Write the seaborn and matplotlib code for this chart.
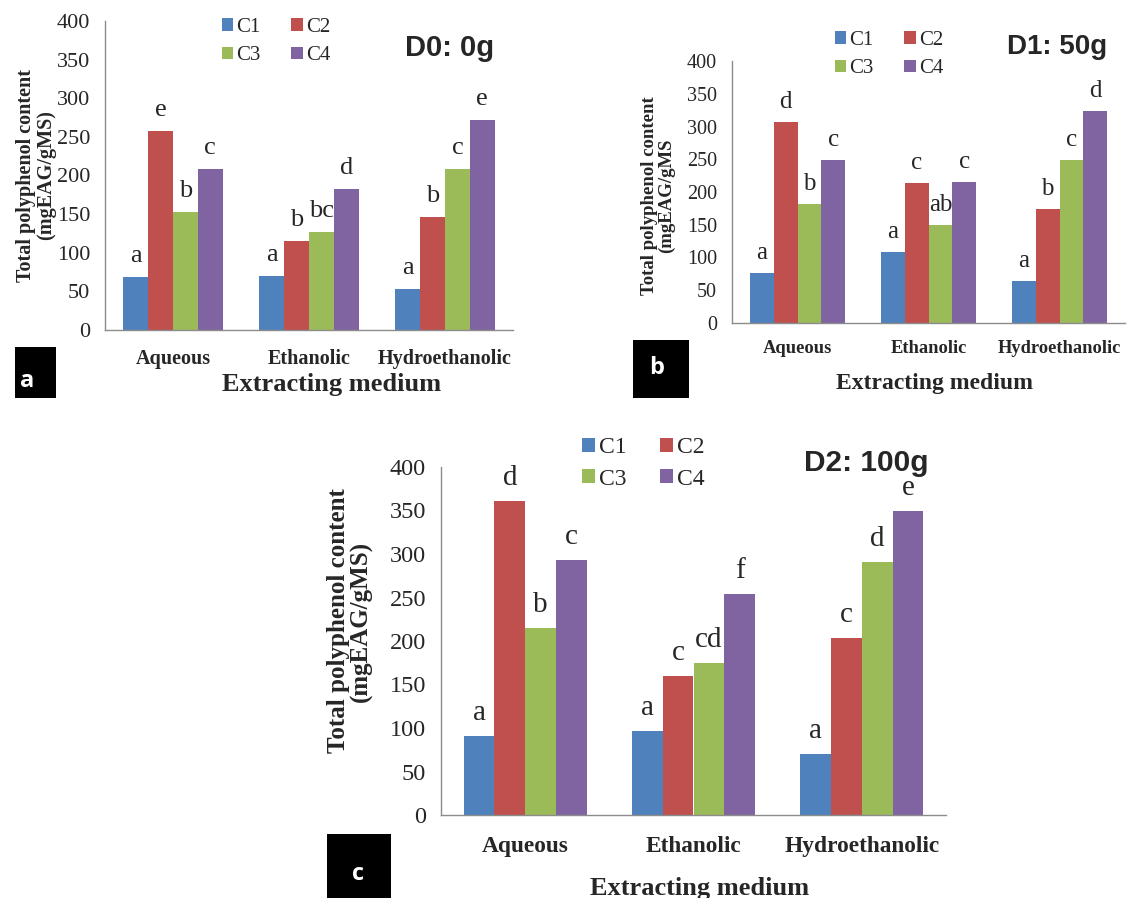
import numpy as np
import pandas as pd
import matplotlib
matplotlib.use("Agg")
import matplotlib.pyplot as plt
import seaborn as sns
from matplotlib.patches import Rectangle

# ---------------- data ----------------
media = ["Aqueous", "Ethanolic", "Hydroethanolic"]
conditions = ["C1", "C2", "C3", "C4"]

# D0: 0g
d0_c1 = [68, 70, 53]
d0_c2 = [257, 115, 146]
d0_c3 = [153, 127, 208]
d0_c4 = [208, 182, 272]
d0_letters_c1 = ["a", "a", "a"]
d0_letters_c2 = ["e", "b", "b"]
d0_letters_c3 = ["b", "bc", "c"]
d0_letters_c4 = ["c", "d", "e"]

# D1: 50g
d1_c1 = [77, 109, 64]
d1_c2 = [307, 213, 174]
d1_c3 = [181, 149, 249]
d1_c4 = [249, 216, 324]
d1_letters_c1 = ["a", "a", "a"]
d1_letters_c2 = ["d", "c", "b"]
d1_letters_c3 = ["b", "ab", "c"]
d1_letters_c4 = ["c", "c", "d"]

# D2: 100g
d2_c1 = [91, 96, 70]
d2_c2 = [361, 160, 204]
d2_c3 = [215, 175, 291]
d2_c4 = [293, 254, 349]
d2_letters_c1 = ["a", "a", "a"]
d2_letters_c2 = ["d", "c", "c"]
d2_letters_c3 = ["b", "cd", "d"]
d2_letters_c4 = ["c", "f", "e"]

y_ticks = [0, 50, 100, 150, 200, 250, 300, 350, 400]
colors = ["#4F81BD", "#C0504D", "#9BBB59", "#8064A2"]

# ---------------- style ----------------
sns.set_style("white")
plt.rcParams["font.family"] = ["Liberation Serif", "DejaVu Serif"]

W, H = 1143, 898
fig = plt.figure(figsize=(W / 100, H / 100), dpi=100)
PT = 0.72  # points per pixel at 100 dpi


def px_axes(left, top, right, bottom):
    return fig.add_axes([left / W, 1 - bottom / H, (right - left) / W, (bottom - top) / H])


def ftext(x, y, s, **kw):
    fig.text(x / W, 1 - y / H, s, **kw)


panels = [
    dict(box=(105, 21, 513, 330), vals=[d0_c1, d0_c2, d0_c3, d0_c4],
         letters=[d0_letters_c1, d0_letters_c2, d0_letters_c3, d0_letters_c4],
         xlim_right=2.5, tick_fs=16, cat_fs=14.5, let_fs=19, let_off=15, cat_pad=19,
         leg=(222, 18), leg_fs=15,
         title="D0: 0g", title_xy=(450, 48), title_fs=21,
         ylabel="Total polyphenol content\n(mgEAG/gMS)", ylabel_xy=(36, 175), ylabel_fs=14.5,
         xlabel_xy=(332, 384), xlabel_fs=19,
         tag="a", tag_box=(15, 347, 56, 398), tag_xy=(27, 381)),
    dict(box=(732, 61, 1125, 323), vals=[d1_c1, d1_c2, d1_c3, d1_c4],
         letters=[d1_letters_c1, d1_letters_c2, d1_letters_c3, d1_letters_c4],
         xlim_right=2.5, tick_fs=14.5, cat_fs=13.3, let_fs=18, let_off=14, cat_pad=17,
         leg=(835, 31), leg_fs=15,
         title="D1: 50g", title_xy=(1057, 47), title_fs=20,
         ylabel="Total polyphenol content\n(mgEAG/gMS", ylabel_xy=(658, 196), ylabel_fs=13.5,
         xlabel_xy=(935, 383), xlabel_fs=17,
         tag="b", tag_box=(633, 340, 689, 398), tag_xy=(657, 368)),
    dict(box=(441, 467, 946, 815), vals=[d2_c1, d2_c2, d2_c3, d2_c4],
         letters=[d2_letters_c1, d2_letters_c2, d2_letters_c3, d2_letters_c4],
         xlim_right=2.5 - 8 / 171, tick_fs=17.5, cat_fs=16.8, let_fs=21, let_off=16, cat_pad=21,
         leg=(582, 437), leg_fs=17,
         title="D2: 100g", title_xy=(866, 463), title_fs=21.5,
         ylabel="Total polyphenol content\n(mgEAG/gMS)", ylabel_xy=(350, 621), ylabel_fs=18,
         xlabel_xy=(700, 888), xlabel_fs=19,
         tag="c", tag_box=(327, 834, 391, 898), tag_xy=(358, 874)),
]

spine_col = "#8C8C8C"

for p in panels:
    ax = px_axes(*p["box"])
    vals = p["vals"]
    df = pd.DataFrame({
        "medium": media * len(conditions),
        "condition": np.repeat(conditions, len(media)),
        "value": np.concatenate(vals),
    })
    sns.barplot(data=df, x="medium", y="value", hue="condition",
                order=media, hue_order=conditions, palette=colors,
                width=0.73, saturation=1, errorbar=None, ax=ax,
                edgecolor="none", linewidth=0)

    ax.set_ylim(0, 400)
    ax.set_xlim(-0.5, p["xlim_right"])
    ax.set_yticks(y_ticks)
    ax.set_xticks(range(len(media)))
    ax.set_xticks([-0.5, 0.5, 1.5, 2.5], minor=True)
    ax.set_xticklabels(media, fontweight="bold", fontsize=p["cat_fs"])
    ax.tick_params(axis="y", direction="out", length=6 * PT, width=1, color=spine_col,
                   labelsize=p["tick_fs"], pad=9 * PT)
    ax.tick_params(axis="x", which="major", length=0, pad=p["cat_pad"] * PT)
    ax.tick_params(axis="x", which="minor", direction="out", length=6 * PT, width=1,
                   color=spine_col)
    for s in ["top", "right"]:
        ax.spines[s].set_visible(False)
    for s in ["left", "bottom"]:
        ax.spines[s].set_color(spine_col)
        ax.spines[s].set_linewidth(1)
    ax.set_xlabel("")
    ax.set_ylabel("")
    ax.grid(False)

    # significance letters
    for cont, lets in zip(ax.containers, p["letters"]):
        for bar, lt in zip(cont, lets):
            ax.annotate(lt, (bar.get_x() + bar.get_width() / 2, bar.get_height()),
                        xytext=(0, p["let_off"] * PT), textcoords="offset points",
                        ha="center", va="baseline", fontsize=p["let_fs"])

    # legend (row-major order: C1 C2 / C3 C4)
    handles, labels = ax.get_legend_handles_labels()
    if ax.get_legend() is not None:
        ax.get_legend().remove()
    order = [0, 2, 1, 3]
    lx, ly = p["leg"]
    ax.legend([handles[i] for i in order], [labels[i] for i in order], ncol=2,
              loc="upper left",
              bbox_to_anchor=(lx / W, 1 - ly / H), bbox_transform=fig.transFigure,
              frameon=False, fontsize=p["leg_fs"], handlelength=0.55, handleheight=0.55,
              handletextpad=0.15, columnspacing=1.45, labelspacing=0.45,
              borderpad=0, borderaxespad=0)

    # title
    ftext(*p["title_xy"], p["title"], ha="center", va="center",
          fontsize=p["title_fs"], fontweight="bold", family=["Liberation Sans", "DejaVu Sans"])
    # axis labels
    ftext(*p["ylabel_xy"], p["ylabel"], ha="center", va="center", rotation=90,
          fontsize=p["ylabel_fs"], fontweight="bold", multialignment="center",
          linespacing=1.0)
    ftext(*p["xlabel_xy"], "Extracting medium", ha="center", va="center",
          fontsize=p["xlabel_fs"], fontweight="bold")
    # panel tag
    x0, y0, x1, y1 = p["tag_box"]
    fig.add_artist(Rectangle((x0 / W, 1 - y1 / H), (x1 - x0) / W, (y1 - y0) / H,
                             transform=fig.transFigure, facecolor="black", edgecolor="none"))
    ftext(*p["tag_xy"], p["tag"], ha="center", va="center", color="white",
          fontsize=17, fontweight="bold", family=["Open Sans", "DejaVu Sans"])

fig.savefig("out.png", dpi=100)
